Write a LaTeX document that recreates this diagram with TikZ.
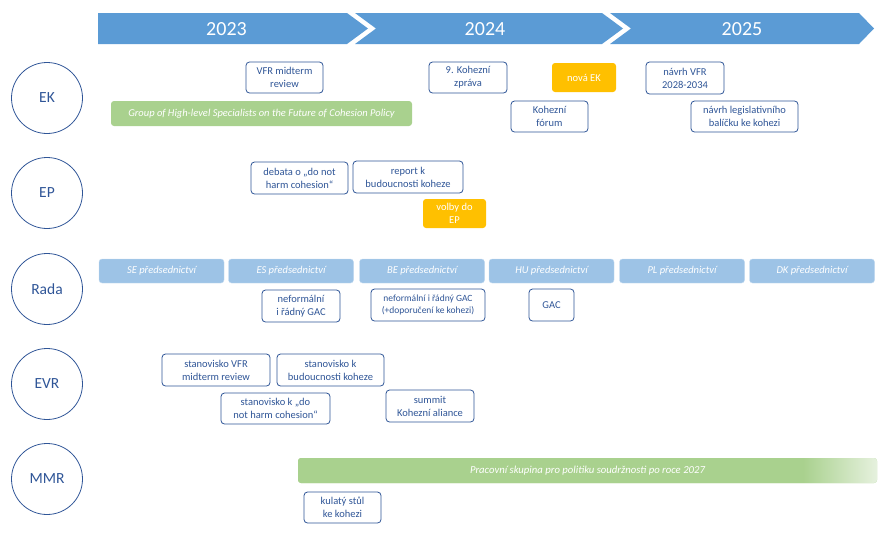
\documentclass[tikz,border=0pt]{standalone}
\usepackage{fontspec}
\setmainfont{Carlito}
\usetikzlibrary{shapes.geometric}
\definecolor{banner}{HTML}{5B9BD5}
\definecolor{pres}{HTML}{9DC3E6}
\definecolor{grn}{HTML}{A9D18E}
\definecolor{grnlight}{HTML}{E6F1DE}
\definecolor{orng}{HTML}{FFC000}
\definecolor{dblue}{HTML}{2F5597}
\pgfdeclarehorizontalshading{greenfade}{100bp}{color(0bp)=(grn); color(68.6bp)=(grn); color(75bp)=(grnlight); color(100bp)=(grnlight)}
\tikzset{
  circ/.style={circle, draw=dblue, line width=0.8pt, minimum size=71pt, inner sep=0pt, text=dblue, font=\fontsize{15.5}{18}\selectfont},
  evbox/.style={draw=dblue, line width=0.8pt, fill=white, rounded corners=3.5pt, text=dblue, align=center, inner sep=0pt, font=\fontsize{10.5}{13}\selectfont},
  orbox/.style={fill=orng, rounded corners=3pt, text=white, align=center, inner sep=0pt, font=\fontsize{10.5}{13}\selectfont},
  presbar/.style={fill=pres, draw=pres!60!white, line width=0.4pt, rounded corners=3pt, text=white, inner sep=0pt, minimum height=24pt, minimum width=125pt, font=\fontsize{10.5}{12}\selectfont\itshape},
  greenbar/.style={fill=grn, rounded corners=3pt, text=white, inner sep=0pt, font=\fontsize{10.5}{12}\selectfont\itshape},
  yeartext/.style={text=white, font=\fontsize{20}{24}\selectfont, inner sep=0pt}
}
\begin{document}
\begin{tikzpicture}[x=1pt,y=-1pt]
\useasboundingbox (0,0) rectangle (885,555);
% banner chevrons
\fill[banner] (98,13) -- (347,13) -- (368,28.5) -- (347,44) -- (98,44) -- cycle;
\fill[banner] (355,13) -- (602,13) -- (623,28.5) -- (602,44) -- (355,44) -- (376,28.5) -- cycle;
\fill[banner] (610,13) -- (859,13) -- (874,28.5) -- (859,44) -- (610,44) -- (631,28.5) -- cycle;
\node[yeartext] (y23) at (226.5,29) {2023};
\node[yeartext] (y24) at (485,29) {2024};
\node[yeartext] (y25) at (742,29) {2025};
% actor circles
\node[circ] (ek) at (47,98) {EK};
\node[circ] (ep) at (47,193) {EP};
\node[circ] (rada) at (47,289) {Rada};
\node[circ] (evr) at (47,384) {EVR};
\node[circ] (mmr) at (47,479) {MMR};
% EK row
\node[greenbar, minimum width=301pt, minimum height=25pt] (group) at (261.5,113.5) {Group of High-level Specialists on the Future of Cohesion Policy};
\node[evbox, minimum width=77pt, minimum height=31pt] (vfrmid) at (284.5,77.5) {VFR midterm\\review};
\node[evbox, minimum width=78pt, minimum height=31pt] (kzprava) at (468,77.5) {9. Kohezní\\zpráva};
\node[orbox, minimum width=64pt, minimum height=29pt] (novaek) at (584,77.5) {nová EK};
\node[evbox, minimum width=77pt, minimum height=31pt] (kforum) at (549.5,116.5) {Kohezní\\fórum};
\node[evbox, minimum width=78pt, minimum height=32pt] (navrhvfr) at (685,78) {návrh VFR\\2028-2034};
\node[evbox, minimum width=107pt, minimum height=31pt] (navrhleg) at (744.5,116.5) {návrh legislativního\\balíčku ke kohezi};
% EP row
\node[evbox, minimum width=97pt, minimum height=32pt] (debata) at (299.5,178) {debata o „do not\\harm cohesion“};
\node[evbox, minimum width=110pt, minimum height=32pt] (report) at (408,177) {report k\\budoucnosti koheze};
\node[orbox, minimum width=63pt, minimum height=29pt] (volby) at (454.5,213.5) {volby do\\EP};
% Rada row
\node[presbar] (se) at (161.5,271) {SE předsednictví};
\node[presbar] (es) at (291,271) {ES předsednictví};
\node[presbar] (be) at (422,271) {BE předsednictví};
\node[presbar] (hu) at (551.5,271) {HU předsednictví};
\node[presbar] (pl) at (682,271) {PL předsednictví};
\node[presbar] (dk) at (812,271) {DK předsednictví};
\node[evbox, minimum width=78pt, minimum height=32pt] (gac1) at (301,306) {neformální\\i řádný GAC};
\node[evbox, minimum width=114pt, minimum height=32pt, font=\fontsize{9.5}{12}\selectfont] (gac2) at (428,305) {neformální i řádný GAC\\(+doporučení ke kohezi)};
\node[evbox, minimum width=45pt, minimum height=32pt] (gac3) at (551.5,305) {GAC};
% EVR row
\node[evbox, minimum width=108pt, minimum height=32pt] (stvfr) at (216,370) {stanovisko VFR\\midterm review};
\node[evbox, minimum width=107pt, minimum height=32pt] (stbud) at (330.5,370) {stanovisko k\\budoucnosti koheze};
\node[evbox, minimum width=109pt, minimum height=31pt] (stdnh) at (275.5,408.5) {stanovisko k „do\\not harm cohesion“};
\node[evbox, minimum width=88pt, minimum height=32pt] (summit) at (430,406) {summit\\Kohezní aliance};
% MMR row
\node[greenbar, shading=greenfade, shade, minimum width=579pt, minimum height=25pt, font=\fontsize{10.7}{12}\selectfont\itshape] (prac) at (587.5,470.5) {Pracovní skupina pro politiku soudržnosti po roce 2027};
\node[evbox, minimum width=77pt, minimum height=31pt] (kulaty) at (342.5,507.5) {kulatý stůl\\ke kohezi};
\end{tikzpicture}
\end{document}
